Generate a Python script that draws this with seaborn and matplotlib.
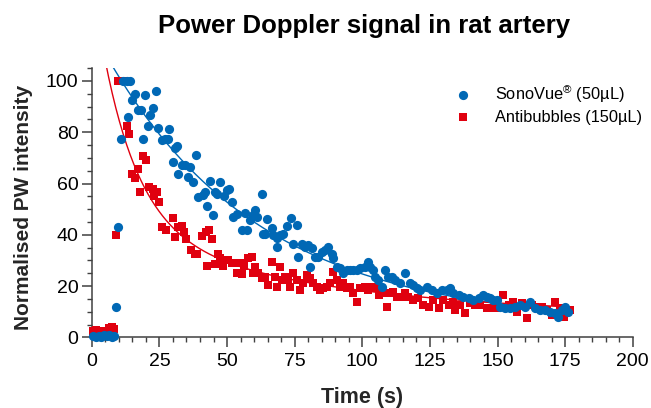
import numpy as np
import matplotlib
matplotlib.use("Agg")
import matplotlib.pyplot as plt
import seaborn as sns
from matplotlib.ticker import MultipleLocator

# SonoVue (blue circles), time in s and normalised intensity
sono_t = [0.5, 1.5, 2.5, 3.5, 4.5, 5.5, 6.5, 7.5, 8.3,
          9.0, 9.8, 10.8, 11.7, 12.9, 13.5, 14.2, 14.8, 16.0, 17.2,
          18.1, 19.0, 19.7, 20.9, 21.6, 22.8, 23.8, 24.6, 25.9, 27.1,
          28.0, 28.7, 29.9, 30.8, 31.4, 31.7, 33.3, 34.5, 35.7, 36.3,
          37.6, 38.6, 39.4, 41.0, 41.9, 42.5, 43.7, 44.7, 45.6, 46.4,
          47.4, 48.7, 49.9, 50.9, 51.8, 52.3, 53.6, 55.5, 56.7, 57.3,
          58.5, 59.7, 60.3, 61.0, 62.8, 63.4, 64.0, 64.7, 66.5, 67.1,
          68.4, 68.6, 69.6, 70.8, 72.1, 73.5, 74.5, 75.8, 76.4, 77.6,
          78.8, 80.1, 80.7, 81.3, 82.5, 83.8, 85.0, 86.2, 87.5, 88.7,
          89.3, 90.5, 91.8, 93.0, 94.2, 95.5, 96.7, 97.9, 99.2, 101.0,
          102.2, 102.9, 104.1, 104.7, 105.9, 107.2, 108.4, 109.6, 110.9, 112.1,
          114.0, 115.8, 117.7, 118.9, 120.1,
          121.4, 123.9, 125.7, 127.6, 129.4, 131.3, 132.5, 133.7, 135.6, 137.4,
          139.3, 141.1, 143.0, 144.8, 146.0, 147.3, 148.5, 149.7, 151.0, 152.8,
          154.7, 156.5, 158.4, 160.2, 162.1, 163.9, 165.8, 167.6, 169.5, 171.3,
          172.5, 173.8, 175.0, 176.2]
sono_v = [0.5, 0.3, 0.6, 0.2, 0.8, 0.4, 0.9, 0.3, 0.5,
          11.9, 43.1, 77.5, 100, 100, 86, 100, 92.5, 95, 88.6,
          88.6, 77.5, 94.4, 82.3, 86.6, 89.6, 96.1, 81.8, 76.9, 77.2,
          77.5, 81.2, 68.4, 74, 74.5, 63.9, 67.4, 67.1, 62.6, 66.5,
          60.6, 71.3, 54.9, 55.5, 56.7, 51.2, 61, 47.9, 56.7, 56,
          60.6, 55, 57.4, 57.7, 52.8, 47, 48, 41.8, 48.6, 41.8,
          45.7, 47.7, 49.6, 47, 55.9, 40.5, 40.5, 46, 42.5, 39.9,
          38.6, 35.3, 39.9, 40.5, 43.4, 46.4, 36.6, 43.8, 31.5, 36.6,
          35.3, 36, 27.6, 34.7, 31.5, 31.5, 33.4, 34, 35.3, 32.7,
          30.8, 27.6, 26.9, 25, 26.3, 26.3, 26.3, 26.3, 26.9, 27.6,
          29.5, 27.6, 26.3, 23.7, 22.4, 19.8, 26.3, 23.7, 23.7, 22.4,
          21.1, 25, 21.1, 20.4, 19.1,
          18.5, 19.8, 18.5, 17.2, 18.5, 18.5, 19.1, 17.2, 16.5, 15.9,
          15.2, 14.6, 15.2, 16.5, 15.9, 15.2, 14.6, 14.6, 12, 11.3,
          11.3, 12, 12.6, 12, 13.9, 11.3, 10.7, 10.7, 10, 9.4,
          8.1, 10.7, 12, 10]

# Antibubbles (red squares)
anti_t = [0.5, 1.5, 2.5, 3.5, 4.5, 5.5, 6.5, 7.5, 8.3,
          9.0, 9.8, 11.7, 12.9, 13.9, 14.8, 16.0, 16.9, 17.9, 18.8,
          20.1, 21.3, 22.6, 23.0, 24.0, 24.9, 25.9, 27.5, 29.9,
          30.6, 32.0, 33.3, 34.1, 34.9, 36.6, 38.2, 39.0, 40.7, 42.3,
          42.5, 43.5, 44.4, 45.6, 46.8, 47.4, 48.6, 50.5, 51.8, 53.6,
          54.7, 55.5, 56.4, 57.9,
          59.1, 59.7, 60.3, 61.6, 62.8, 64.0, 65.3, 66.5, 67.7, 68.4,
          69.6, 70.2, 71.4, 72.7, 73.3, 74.5, 75.8, 77.0, 78.2, 79.4,
          80.7, 81.9, 83.1, 84.4, 85.6, 86.8, 88.1, 89.3, 90.5, 91.8,
          93.0, 94.2, 95.5, 96.7, 97.9, 99.2, 101.0, 102.2, 103.5, 104.7,
          106.0, 107.2, 109.0, 110.3, 111.5, 112.7, 114.6, 115.8, 117.0, 118.9,
          120.7,
          122.6, 124.5, 126.3, 128.2, 130.0, 131.9, 133.7, 134.3, 136.2, 138.0,
          139.9, 141.7, 143.6, 146.0, 147.9, 149.7, 152.2, 154.1, 155.9, 157.1,
          159.0, 160.8, 162.7, 164.5, 166.4, 168.2, 170.1, 171.3, 173.2, 174.4,
          176.9]
anti_v = [2.5, 2.8, 1.5, 2.6, 1.8, 2.2, 3.8, 4.2, 3.2,
          39.9, 100, 100, 82.3, 79.5, 63.6, 62.3, 65.5, 56.7, 70.7,
          69.1, 58.7, 57.7, 55, 56.7, 52.8, 43.1, 41.8, 46.4,
          39.2, 43.1, 43.3, 41.2, 38.2, 34, 32.7, 32.5, 39.5, 41.2,
          27.8, 41.8, 38.2, 28.8, 32.7, 31, 28, 30, 29, 25.2,
          29, 24.7, 28, 30.8,
          31.5, 25, 27.6, 25, 23, 23.7, 20.4, 29.5, 23.7, 19.8,
          27.6, 22.4, 23.7, 22.4, 19.8, 25, 22.4, 18.5, 21.1, 24.3,
          23, 21.1, 19.8, 18.5, 19.1, 19.8, 21.1, 25.6, 22.4, 19.8,
          21.1, 19.1, 19.8, 17.2, 13.9, 19.1, 19.8, 18.5, 19.8, 19.1,
          16.5, 17.2, 12, 17.2, 17.8, 15.9, 15.9, 17.2, 15.9, 14.6,
          15.2,
          12.6, 12, 14.6, 11.3, 14.6, 12.6, 13.9, 10.7, 12.6, 9.4,
          13.3, 12.6, 12.6, 11.3, 11.3, 11.3, 16.5, 12.6, 13.9, 10,
          13.3, 7.4, 12.6, 12, 12, 10.7, 8.8, 13.9, 11.3, 8.1,
          10.7]

# decay fit parameters
sono_fit = dict(plateau=5.0, span=95.0, t0=11.0, k=0.01765)
anti_fit = dict(plateau=8.0, a_fast=96.0, k_fast=0.075, a_slow=36.0, k_slow=0.0126)

BLUE = "#0068B5"
RED = "#E0000F"

sns.set_theme(style="ticks")
plt.rcParams["font.family"] = ["Liberation Sans", "DejaVu Sans"]
plt.rcParams["text.color"] = "black"
plt.rcParams["xtick.labelcolor"] = "black"
plt.rcParams["ytick.labelcolor"] = "black"

fig = plt.figure(figsize=(6.51, 4.08), dpi=100)
ax = fig.add_axes([0.141, 0.173, 0.831, 0.66])

# fitted curves
tf = np.linspace(0, max(sono_t), 400)
sono_curve = sono_fit["plateau"] + sono_fit["span"] * np.exp(-sono_fit["k"] * (tf - sono_fit["t0"]))
tf2 = np.linspace(0, max(anti_t), 400)
anti_curve = (anti_fit["plateau"] + anti_fit["a_fast"] * np.exp(-anti_fit["k_fast"] * tf2)
              + anti_fit["a_slow"] * np.exp(-anti_fit["k_slow"] * tf2))
sns.lineplot(x=tf, y=sono_curve, color=BLUE, lw=1.0, ax=ax)
sns.lineplot(x=tf2, y=anti_curve, color=RED, lw=1.0, ax=ax)

sns.scatterplot(x=anti_t, y=anti_v, marker="s", color=RED, s=38, linewidth=0,
                ax=ax, clip_on=False, label="Antibubbles (150µL)", zorder=3)
sns.scatterplot(x=sono_t, y=sono_v, marker="o", color=BLUE, s=44, linewidth=0,
                ax=ax, clip_on=False, label="SonoVue$^{\\mathregular{®}}$ (50µL)", zorder=4)

ax.set_xlim(0, 200)
ax.set_ylim(0, 105)
ax.xaxis.set_major_locator(MultipleLocator(25))
ax.xaxis.set_minor_locator(MultipleLocator(5))
ax.set_yticks([0, 20, 40, 60, 80, 100])
ax.yaxis.set_minor_locator(MultipleLocator(5))
ax.tick_params(which="major", length=7.5, width=1.1, color="#404040", labelsize=14)
ax.tick_params(which="minor", length=3.8, width=1.0, color="#404040")
ax.tick_params(axis="x", which="major", pad=4)
ax.tick_params(axis="y", which="major", pad=2)
for s in ["top", "right"]:
    ax.spines[s].set_visible(False)
for s in ["left", "bottom"]:
    ax.spines[s].set_color("#404040")
    ax.spines[s].set_linewidth(1.1)

ax.set_xlabel("Time (s)", fontsize=15.5, fontweight="bold")
ax.set_ylabel("Normalised PW intensity", fontsize=15, fontweight="bold")
ax.xaxis.set_label_coords(0.499, -0.185)
ax.yaxis.set_label_coords(-0.109, 0.484)

fig.text(0.559, 0.937, "Power Doppler signal in rat artery", ha="center", va="center",
         fontsize=18.5, fontweight="bold")

handles, labels = ax.get_legend_handles_labels()
ax.legend(handles[::-1], labels[::-1], loc="upper left", bbox_to_anchor=(0.655, 0.945),
          frameon=False, fontsize=11.8, handlelength=2.0, handletextpad=1.0,
          labelspacing=0.3, borderaxespad=0, borderpad=0)

fig.savefig("out.png", dpi=100)
